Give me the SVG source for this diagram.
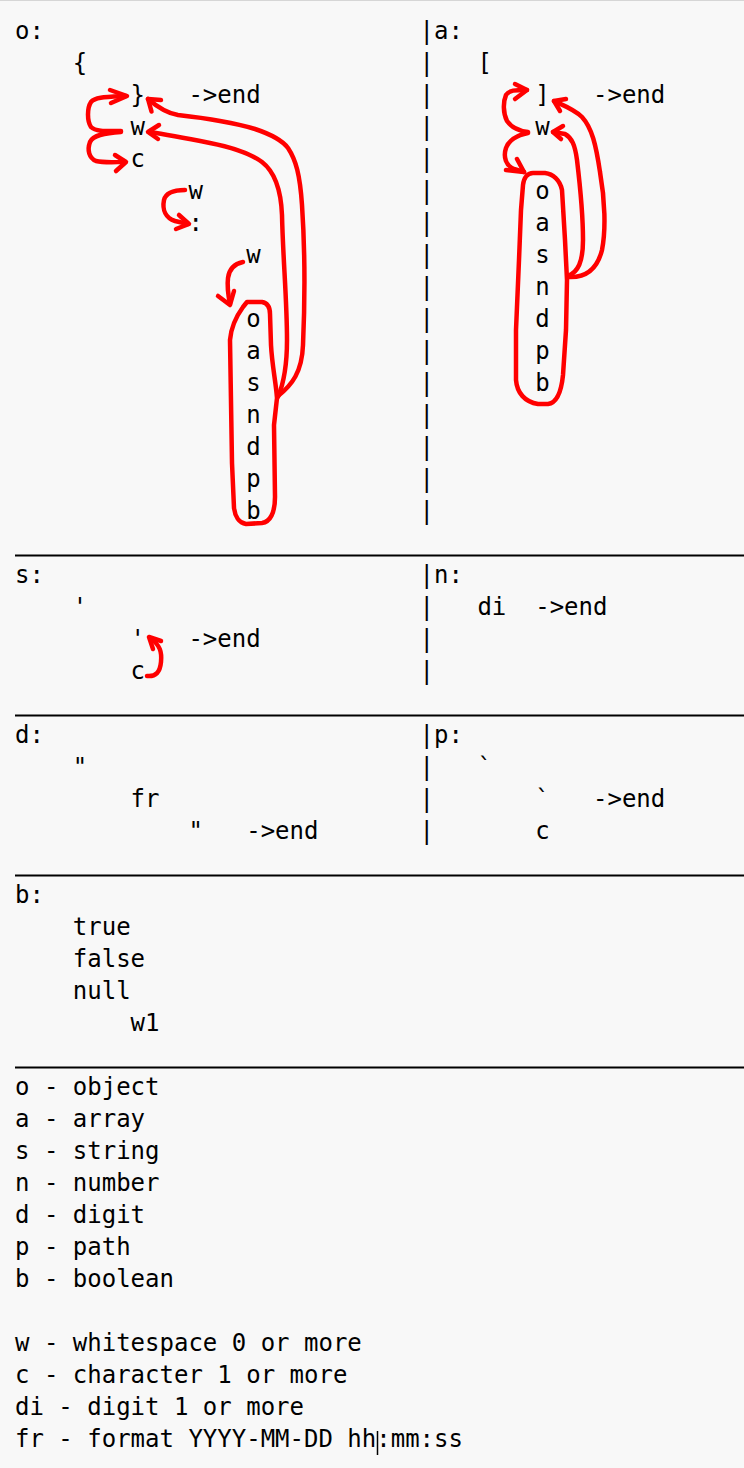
<svg xmlns="http://www.w3.org/2000/svg" width="744" height="1468" viewBox="0 0 744 1468">
<style>
.t{font-family:"DejaVu Sans Mono","Liberation Mono",monospace;font-size:24px;fill:#000}
.rule{stroke:#000;stroke-width:2}
.red{fill:none;stroke:#ff0000;stroke-width:4.5;stroke-linecap:round;stroke-linejoin:round}
</style>
<rect x="0" y="0" width="744" height="1468" fill="#f8f8f8"/>
<line x1="0" y1="0.5" x2="744" y2="0.5" stroke="#d6d6d6" stroke-width="1"/>

<g id="section-o">
<text class="t" x="15" y="39">o:</text>
<text class="t" x="72.8" y="71">{</text>
<text class="t" x="130.6" y="103">}</text>
<text class="t" x="188.4" y="103">-&gt;end</text>
<text class="t" x="130.6" y="135">w</text>
<text class="t" x="130.6" y="167">c</text>
<text class="t" x="188.4" y="199">w</text>
<text class="t" x="188.4" y="231">:</text>
<text class="t" x="246.2" y="263">w</text>
<text class="t" x="246.2" y="327">o</text>
<text class="t" x="246.2" y="359">a</text>
<text class="t" x="246.2" y="391">s</text>
<text class="t" x="246.2" y="423">n</text>
<text class="t" x="246.2" y="455">d</text>
<text class="t" x="246.2" y="487">p</text>
<text class="t" x="246.2" y="519">b</text>
</g>

<g id="section-a">
<text class="t" x="419.6" y="39">|a:</text>
<text class="t" x="477.4" y="71">[</text>
<text class="t" x="535.2" y="103">]</text>
<text class="t" x="593" y="103">-&gt;end</text>
<text class="t" x="535.2" y="135">w</text>
<text class="t" x="535.2" y="199">o</text>
<text class="t" x="535.2" y="231">a</text>
<text class="t" x="535.2" y="263">s</text>
<text class="t" x="535.2" y="295">n</text>
<text class="t" x="535.2" y="327">d</text>
<text class="t" x="535.2" y="359">p</text>
<text class="t" x="535.2" y="391">b</text>
</g>

<g id="divider-1">
<text class="t" x="419.6" y="71">|</text>
<text class="t" x="419.6" y="103">|</text>
<text class="t" x="419.6" y="135">|</text>
<text class="t" x="419.6" y="167">|</text>
<text class="t" x="419.6" y="199">|</text>
<text class="t" x="419.6" y="231">|</text>
<text class="t" x="419.6" y="263">|</text>
<text class="t" x="419.6" y="295">|</text>
<text class="t" x="419.6" y="327">|</text>
<text class="t" x="419.6" y="359">|</text>
<text class="t" x="419.6" y="391">|</text>
<text class="t" x="419.6" y="423">|</text>
<text class="t" x="419.6" y="455">|</text>
<text class="t" x="419.6" y="487">|</text>
<text class="t" x="419.6" y="519">|</text>
</g>

<g id="rules">
<line class="rule" x1="15" y1="555.5" x2="744" y2="555.5"/>
<line class="rule" x1="15" y1="715.5" x2="744" y2="715.5"/>
<line class="rule" x1="15" y1="875.5" x2="744" y2="875.5"/>
<line class="rule" x1="15" y1="1067.5" x2="744" y2="1067.5"/>
</g>

<g id="section-s">
<text class="t" x="15" y="583">s:</text>
<text class="t" x="72.8" y="615">'</text>
<text class="t" x="130.6" y="647">'</text>
<text class="t" x="188.4" y="647">-&gt;end</text>
<text class="t" x="130.6" y="679">c</text>
</g>

<g id="section-n">
<text class="t" x="419.6" y="583">|n:</text>
<text class="t" x="419.6" y="615">|</text>
<text class="t" x="477.4" y="615">di</text>
<text class="t" x="535.2" y="615">-&gt;end</text>
<text class="t" x="419.6" y="647">|</text>
<text class="t" x="419.6" y="679">|</text>
</g>

<g id="section-d">
<text class="t" x="15" y="743">d:</text>
<text class="t" x="72.8" y="775">"</text>
<text class="t" x="130.6" y="807">fr</text>
<text class="t" x="188.4" y="839">"</text>
<text class="t" x="246.2" y="839">-&gt;end</text>
</g>

<g id="section-p">
<text class="t" x="419.6" y="743">|p:</text>
<text class="t" x="419.6" y="775">|</text>
<text class="t" x="477.4" y="775">`</text>
<text class="t" x="419.6" y="807">|</text>
<text class="t" x="535.2" y="807">`</text>
<text class="t" x="593" y="807">-&gt;end</text>
<text class="t" x="419.6" y="839">|</text>
<text class="t" x="535.2" y="839">c</text>
</g>

<g id="section-b">
<text class="t" x="15" y="903">b:</text>
<text class="t" x="72.8" y="935">true</text>
<text class="t" x="72.8" y="967">false</text>
<text class="t" x="72.8" y="999">null</text>
<text class="t" x="130.6" y="1031">w1</text>
</g>

<g id="legend">
<text class="t" x="15" y="1095">o - object</text>
<text class="t" x="15" y="1127">a - array</text>
<text class="t" x="15" y="1159">s - string</text>
<text class="t" x="15" y="1191">n - number</text>
<text class="t" x="15" y="1223">d - digit</text>
<text class="t" x="15" y="1255">p - path</text>
<text class="t" x="15" y="1287">b - boolean</text>
<text class="t" x="15" y="1351">w - whitespace 0 or more</text>
<text class="t" x="15" y="1383">c - character 1 or more</text>
<text class="t" x="15" y="1415">di - digit 1 or more</text>
<text class="t" x="15" y="1447">fr - format YYYY-MM-DD hh:mm:ss</text>
<line x1="377.5" y1="1431" x2="377.5" y2="1455" stroke="#000" stroke-width="1.5"/>
</g>

<g id="connectors">
<!-- object: w -> } -->
<path class="red" d="M121,131 C108,131 96,132 91,127 C87,121 87,108 91,102 C95,97 105,97 126,96"/>
<path class="red" d="M110,90 L127,96 L111,103"/>
<!-- object: w -> c -->
<path class="red" d="M121,132 C105,133 93,135 90,142 C87,150 89,158 96,161 C104,163 115,162 125,162"/>
<path class="red" d="M115,155 L126,162 L116,171"/>
<!-- object: w -> : -->
<path class="red" d="M185,190 C175,190 166,192 164,200 C162,210 166,218 175,221 L188,224"/>
<path class="red" d="M179,215 L189,224 L176,229"/>
<!-- object: w -> value group -->
<path class="red" d="M243,262 C234,264 229,270 228,278 C227,286 228,294 230,304"/>
<path class="red" d="M218,296 L230,305 L234,291"/>
<!-- object: value group outline -->
<path class="red" d="M247,302 L262,302 C268,303 270,307 270,314 L271,345 C272,365 276,383 277,398 L274,425 L275,497 C275,513 270,522 262,523 L246,524 C239,523 235,516 234,508 L232,463 L230,340 C231,328 235,318 243,307 Z"/>
<!-- object: value -> w -->
<path class="red" d="M278,397 C283,385 287,365 287,340 C287,300 283,260 282,215 C281,190 275,172 262,162 C250,153 230,147 210,143 C190,139 170,135 149,132"/>
<path class="red" d="M159,125 L148,132 L158,139"/>
<!-- object: value -> } -->
<path class="red" d="M278,396 C292,385 302,372 303,345 C305,300 305,250 302,205 C300,175 296,160 288,148 C282,140 270,134 255,129 C235,123 205,118 178,115 C165,113 155,105 148,99"/>
<path class="red" d="M161,100 L148,99 L151.5,111.5"/>

<!-- array: w -> ] -->
<path class="red" d="M528,132 C520,131 512,128 507,121 C503,113 503,102 506,95 C509,90 515,90 527,90"/>
<path class="red" d="M515,84 L527,90 L515,99"/>
<!-- array: w -> value group -->
<path class="red" d="M528,133 C518,135 509,140 506,148 C503,157 506,166 514,169 L524,172"/>
<path class="red" d="M517,159 L524,172 L506,170"/>
<!-- array: value group outline -->
<path class="red" d="M533,173 L545,173 C553,174 560,180 562,190 L565,240 L567,280 L566,330 L563,375 C561,395 556,403 548,404 L538,404 C525,402 517,393 516,380 L516,330 L519,260 L521,210 L523,185 C524,177 528,173 533,173 Z"/>
<!-- array: value -> w -->
<path class="red" d="M568,276 C578,272 583,262 583,240 C583,215 580,185 577,160 C575,145 572,138 565,134 L553,132"/>
<path class="red" d="M563,126 L553,132 L561,139"/>
<!-- array: value -> ] -->
<path class="red" d="M568,277 C585,278 597,270 602,250 C606,230 605,200 600,172 C596,145 592,128 582,117 C575,110 565,106 554,101"/>
<path class="red" d="M566,99 L554,101 L560,111"/>

<!-- string: c -> ' -->
<path class="red" d="M147,676 C156,677 160,672 161,662 C162,652 160,645 151,639"/>
<path class="red" d="M161,641 L149,637 L153,649"/>
</g>
</svg>
